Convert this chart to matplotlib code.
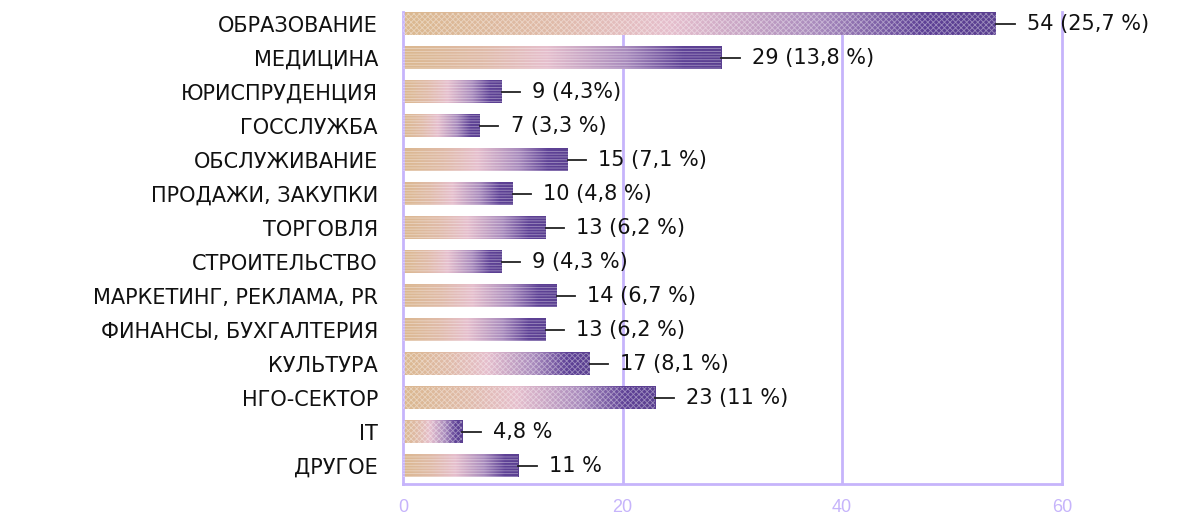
import numpy as np
import matplotlib.pyplot as plt
from matplotlib.colors import LinearSegmentedColormap

# Данные
categories = ['ОБРАЗОВАНИЕ', 'МЕДИЦИНА', 'ЮРИСПРУДЕНЦИЯ', 'ГОССЛУЖБА', 'ОБСЛУЖИВАНИЕ',
              'ПРОДАЖИ, ЗАКУПКИ', 'ТОРГОВЛЯ', 'СТРОИТЕЛЬСТВО', 'МАРКЕТИНГ, РЕКЛАМА, PR',
              'ФИНАНСЫ, БУХГАЛТЕРИЯ', 'КУЛЬТУРА', 'НГО-СЕКТОР', 'IT', 'ДРУГОЕ']
values = [54, 29, 9, 7, 15, 10, 13, 9, 14, 13, 17, 23, 5.4, 10.5]
value_labels = ['54 (25,7 %)', '29 (13,8 %)', '9 (4,3%)', '7 (3,3 %)', '15 (7,1 %)',
                '10 (4,8 %)', '13 (6,2 %)', '9 (4,3 %)', '14 (6,7 %)', '13 (6,2 %)',
                '17 (8,1 %)', '23 (11 %)', '4,8 %', '11 %']
textures = ['xxxxxx', '------', '------', '------', '------', '------', '------',
            '------', '------', '------', 'xxxxxx', 'xxxxxx', 'xxxxxx', '------']
xticks = [0, 20, 40, 60]

LAVENDER = '#c6b4fb'
cmap = LinearSegmentedColormap.from_list(
    'grad', [(0.0, '#dbb88f'), (0.25, '#e0bba9'), (0.45, '#e6bfcd'),
             (0.7, '#a98bbd'), (0.88, '#5e4196'), (1.0, '#5a3f90')])
plt.rcParams['hatch.linewidth'] = 0.6

fig = plt.figure(figsize=(11.85, 5.15), dpi=100)
ax = fig.add_axes([0.340, 0.060, 0.556, 0.917])

y = np.arange(len(categories))
bar_h = 0.65
grad = np.linspace(0, 1, 256).reshape(1, -1)

for i, v in enumerate(values):
    ax.imshow(grad, cmap=cmap, aspect='auto', interpolation='bilinear',
              extent=[0, v, i + bar_h / 2, i - bar_h / 2], zorder=2)
    ax.barh(i, v, height=bar_h, facecolor='none', edgecolor=(1, 1, 1, 0.4),
            hatch=textures[i], linewidth=0, zorder=3)
    # линия-выноска и подпись
    ax.plot([v, v + 1.7], [i, i], color='#222222', lw=1.3, zorder=4)
    ax.text(v + 2.8, i, value_labels[i], va='center', ha='left',
            fontsize=15, color='#111111', zorder=4)

ax.set_xlim(0, 60)
ax.set_ylim(13.53, -0.35)
ax.set_yticks(y)
ax.set_yticklabels(categories, fontsize=15, color='#111111')
ax.set_xticks(xticks)
ax.set_xticklabels([str(t) for t in xticks], fontsize=13, color=LAVENDER,
                   family=['Liberation Sans Narrow', 'Liberation Sans'])
ax.tick_params(axis='both', length=0)
ax.tick_params(axis='y', pad=18)
ax.tick_params(axis='x', pad=11)

for x in [20, 40]:
    ax.axvline(x, color=LAVENDER, lw=2, zorder=1)

ax.spines['top'].set_visible(False)
for s in ['left', 'right', 'bottom']:
    ax.spines[s].set_color(LAVENDER)
    ax.spines[s].set_linewidth(2)

fig.savefig('out.png', dpi=100)
